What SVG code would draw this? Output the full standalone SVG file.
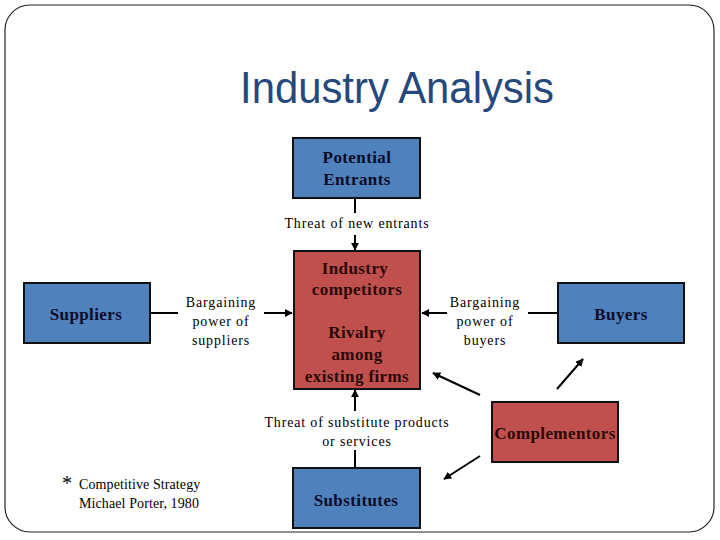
<svg xmlns="http://www.w3.org/2000/svg" width="720" height="540" viewBox="0 0 720 540">
<defs>
<marker id="ah" viewBox="0 0 10 10" refX="9" refY="5" markerWidth="4" markerHeight="4" orient="auto" markerUnits="strokeWidth">
<path d="M0,0 L10,5 L0,10 z" fill="#000"/>
</marker>
<style>
.box{stroke:#111;stroke-width:2}
.blue{fill:#4F81BD}
.red{fill:#C0504D}
.bt{font-family:'Liberation Serif','DejaVu Serif','Times New Roman',serif;font-weight:bold;font-size:17px;letter-spacing:0.4px;text-anchor:middle}
.bl{fill:#0c0c28}
.rd{fill:#2a0808}
.lb{font-family:'Liberation Serif','DejaVu Serif','Times New Roman',serif;font-size:14px;text-anchor:middle;fill:#000;letter-spacing:0.85px}
.cn{stroke:#000;stroke-width:2;fill:none}
.ft{font-family:'Liberation Serif','DejaVu Serif','Times New Roman',serif;font-size:14px;letter-spacing:0.1px;fill:#000}
</style>
</defs>
<rect x="5" y="5" width="709" height="527" rx="25" ry="25" fill="#fff" stroke="#222" stroke-width="1.2"/>
<text x="397" y="103" font-family="Liberation Sans, Arial, sans-serif" font-size="45" fill="#24497A" text-anchor="middle" textLength="314" lengthAdjust="spacingAndGlyphs">Industry Analysis</text>

<g id="connectors">
<line class="cn" x1="355" y1="198" x2="355" y2="213"/>
<line class="cn" x1="355" y1="235" x2="355" y2="250" marker-end="url(#ah)"/>
<line class="cn" x1="150" y1="313" x2="178" y2="313"/>
<line class="cn" x1="264" y1="313" x2="292" y2="313" marker-end="url(#ah)"/>
<line class="cn" x1="558" y1="313" x2="528" y2="313"/>
<line class="cn" x1="447" y1="313" x2="422" y2="313" marker-end="url(#ah)"/>
<line class="cn" x1="355" y1="468" x2="355" y2="450"/>
<line class="cn" x1="355" y1="411" x2="355" y2="390" marker-end="url(#ah)"/>
<line class="cn" x1="480" y1="395" x2="433" y2="373" marker-end="url(#ah)"/>
<line class="cn" x1="557" y1="389" x2="583" y2="359" marker-end="url(#ah)"/>
<line class="cn" x1="480" y1="456" x2="444" y2="479" marker-end="url(#ah)"/>
<text class="lb" x="357" y="228">Threat of new entrants</text>
<text class="lb" x="221" y="307">Bargaining</text>
<text class="lb" x="221" y="326">power of</text>
<text class="lb" x="221" y="345">suppliers</text>
<text class="lb" x="485" y="307">Bargaining</text>
<text class="lb" x="485" y="326">power of</text>
<text class="lb" x="485" y="345">buyers</text>
<text class="lb" x="357" y="427">Threat of substitute products</text>
<text class="lb" x="357" y="446">or services</text>
</g>

<g id="potential-entrants">
<rect class="box blue" x="293" y="138" width="127" height="60"/>
<text class="bt bl" x="357" y="163">Potential</text>
<text class="bt bl" x="357" y="185">Entrants</text>
</g>

<g id="industry-competitors">
<rect class="box red" x="294" y="251" width="126" height="138"/>
<text class="bt rd" x="355" y="274">Industry</text>
<text class="bt rd" x="357" y="295">competitors</text>
<text class="bt rd" x="357" y="338">Rivalry</text>
<text class="bt rd" x="357" y="360">among</text>
<text class="bt rd" x="357" y="382">existing firms</text>
</g>

<g id="suppliers">
<rect class="box blue" x="24" y="283" width="126" height="60"/>
<text class="bt bl" x="86" y="320">Suppliers</text>
</g>

<g id="buyers">
<rect class="box blue" x="558" y="283" width="126" height="60"/>
<text class="bt bl" x="621" y="320">Buyers</text>
</g>

<g id="complementors">
<rect class="box red" x="492" y="402" width="126" height="60"/>
<text class="bt rd" x="555" y="439">Complementors</text>
</g>

<g id="substitutes">
<rect class="box blue" x="293" y="468" width="127" height="60"/>
<text class="bt bl" x="356" y="506">Substitutes</text>
</g>

<g id="footnote">
<text x="62" y="490" font-family="'Liberation Serif','DejaVu Serif',serif" font-size="20" fill="#000">*</text>
<text class="ft" x="79" y="489">Competitive Strategy</text>
<text class="ft" x="79" y="508">Michael Porter, 1980</text>
</g>
</svg>
